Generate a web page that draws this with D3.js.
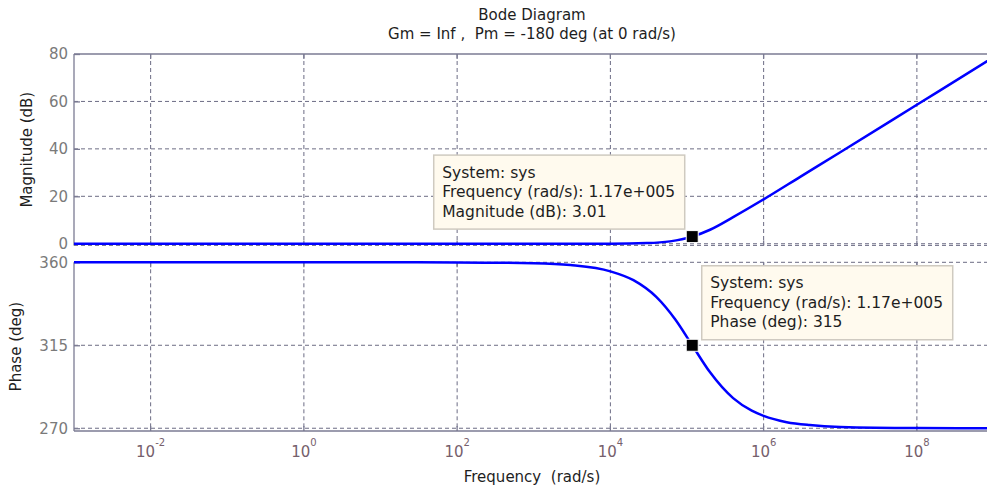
<!DOCTYPE html>
<html>
<head>
<meta charset="utf-8">
<script src="https://cdn.jsdelivr.net/npm/d3@7"></script>
<style>
  body { margin: 0; background: #ffffff; }
  svg { display: block; font-family: "DejaVu Sans", "Noto Sans", sans-serif; }
</style>
</head>
<body>
<svg id="chart" width="987" height="486"></svg>
<script>
// Frequency response of sys: magnitude (dB) and phase (deg) versus frequency (rad/s)
const magFreq  = [1e-3, 1e-1, 1e1, 1e3, 1e4, 3e4, 6e4, 1.17e5, 2e5, 4e5, 1e6, 3e6, 1e7, 1e8, 1e9];
const magDb    = [0, 0, 0, 0, 0.03, 0.28, 1.0, 3.01, 5.9, 11.2, 18.7, 28.2, 38.6, 58.6, 78.6];

const phaseFreq = [1e-3, 1e1, 1e2, 1e3, 3e3, 1e4, 2e4, 4e4, 7e4, 1.17e5, 2e5, 4e5, 7e5, 1e6, 2e6, 4e6, 1e7, 1e8, 1e9];
const phaseDeg  = [360, 360, 359.95, 359.5, 358.5, 355.1, 350.3, 341.1, 329.1, 315, 300.3, 286.3, 279.5, 276.7, 273.3, 271.7, 270.7, 270.1, 270];

// Axis ticks
const xTickExps   = [-2, 0, 2, 4, 6, 8];
const magTicks    = [0, 20, 40, 60, 80];
const phaseTicks  = [270, 315, 360];

// Data tip readouts
const tipFreq  = 1.17e5;
const tipMag   = 3.01;
const tipPhase = 315;

const titleLines = ["Bode Diagram", "Gm = Inf ,  Pm = -180 deg (at 0 rad/s)"];
const magLabel   = "Magnitude (dB)";
const phaseLabel = "Phase (deg)";
const freqLabel  = "Frequency  (rad/s)";

// ---- styling ----
const AXIS = "#7b7b93";
const GRID = "#6c6c84";
const TICKTXT = "#7a7a7a";
const CURVE = "#0000ff";
const TEXT = "#1e1e1e";

const svg = d3.select("#chart");

const x = d3.scaleLog().domain([1e-3, 1e9]).range([74, 993.5]);
const yMag = d3.scaleLinear().domain([-0.7, 80]).range([245.4, 54]);
const yPh  = d3.scaleLinear().domain([268.5, 360]).range([431, 262.3]);

const xLeft = x.range()[0];
const xRight = 987;
const xTickVals = xTickExps.map(e => Math.pow(10, e));

// ---- gridlines ----
function vGrid(y0, y1) {
  svg.append("g").selectAll("line").data(xTickVals).join("line")
    .attr("x1", d => x(d)).attr("x2", d => x(d))
    .attr("y1", y0).attr("y2", y1)
    .attr("stroke", GRID).attr("stroke-width", 1)
    .attr("stroke-dasharray", "4,3");
}
function hGrid(vals, scale) {
  svg.append("g").selectAll("line").data(vals).join("line")
    .attr("x1", xLeft).attr("x2", xRight)
    .attr("y1", d => scale(d)).attr("y2", d => scale(d))
    .attr("stroke", GRID).attr("stroke-width", 1)
    .attr("stroke-dasharray", "4,3");
}

vGrid(yMag.range()[1], yMag.range()[0]);
vGrid(yPh.range()[1], yPh.range()[0]);
hGrid(magTicks.filter(v => v < 80), yMag);
hGrid(phaseTicks, yPh);

// dashed lower edge of the magnitude axes
svg.append("line")
  .attr("x1", xLeft).attr("x2", xRight)
  .attr("y1", yMag.range()[0]).attr("y2", yMag.range()[0])
  .attr("stroke", GRID).attr("stroke-dasharray", "4,3");

// ---- solid frame lines ----
function solid(x1, y1, x2, y2) {
  svg.append("line").attr("x1", x1).attr("y1", y1).attr("x2", x2).attr("y2", y2)
    .attr("stroke", AXIS).attr("stroke-width", 1.3);
}
solid(xLeft, yMag.range()[1], xRight, yMag.range()[1]);   // magnitude top
solid(xLeft, yMag.range()[1], xLeft, yMag.range()[0]);    // magnitude left
solid(xLeft, yPh.range()[1], xLeft, yPh.range()[0]);      // phase left
solid(xLeft, yPh.range()[0], xRight, yPh.range()[0]);     // phase bottom

// ---- inward tick marks on x ----
function xTicks(yEdge, dir) {
  svg.append("g").selectAll("line").data(xTickVals).join("line")
    .attr("x1", d => x(d)).attr("x2", d => x(d))
    .attr("y1", yEdge).attr("y2", yEdge + dir * 5)
    .attr("stroke", AXIS).attr("stroke-width", 1.3);
}
xTicks(yMag.range()[1], 1);
xTicks(yMag.range()[0], -1);
xTicks(yPh.range()[1], 1);
xTicks(yPh.range()[0], -1);

// ---- y axes (ticks inside, labels outside) ----
function yAxis(scale, ticks) {
  const g = svg.append("g").attr("transform", `translate(${xLeft},0)`)
    .call(d3.axisLeft(scale).tickValues(ticks).tickSizeInner(-6).tickSizeOuter(0).tickPadding(6));
  g.select(".domain").remove();
  g.selectAll(".tick line").attr("stroke", AXIS).attr("stroke-width", 1.3);
  g.selectAll(".tick text")
    .attr("fill", TICKTXT).attr("font-size", 15)
    .attr("font-family", "DejaVu Sans, sans-serif");
}
yAxis(yMag, magTicks);
yAxis(yPh, phaseTicks);

// ---- x tick labels 10^n ----
const xl = svg.append("g").selectAll("text").data(xTickExps).join("text")
  .attr("x", d => x(Math.pow(10, d)))
  .attr("y", yPh.range()[0] + 26)
  .attr("text-anchor", "middle")
  .attr("fill", "#76606c")
  .attr("font-size", 15);
xl.append("tspan").text("10");
xl.append("tspan").attr("dy", -11).attr("font-size", 10).text(d => String(d));

// ---- curves ----
const magLine = d3.line()
  .x((d, i) => x(magFreq[i])).y(d => yMag(d))
  .curve(d3.curveMonotoneX);
svg.append("path").datum(magDb)
  .attr("d", magLine)
  .attr("fill", "none").attr("stroke", CURVE).attr("stroke-width", 2.5);

const phLine = d3.line()
  .x((d, i) => x(phaseFreq[i])).y(d => yPh(d))
  .curve(d3.curveMonotoneX);
svg.append("path").datum(phaseDeg)
  .attr("d", phLine)
  .attr("fill", "none").attr("stroke", CURVE).attr("stroke-width", 2.5);

// ---- titles and axis labels ----
svg.append("text").attr("x", 532).attr("y", 20).attr("text-anchor", "middle")
  .attr("font-size", 15).attr("fill", TEXT).text(titleLines[0]);
svg.append("text").attr("x", 532).attr("y", 39).attr("text-anchor", "middle")
  .attr("font-size", 15).attr("fill", TEXT).style("white-space", "pre").text(titleLines[1]);

svg.append("text")
  .attr("transform", `translate(31.5,${(yMag.range()[0] + yMag.range()[1]) / 2}) rotate(-90)`)
  .attr("text-anchor", "middle").attr("font-size", 15).attr("fill", TEXT).text(magLabel);
svg.append("text")
  .attr("transform", `translate(21,${(yPh.range()[0] + yPh.range()[1]) / 2}) rotate(-90)`)
  .attr("text-anchor", "middle").attr("font-size", 15).attr("fill", TEXT).text(phaseLabel);
svg.append("text").attr("x", 532).attr("y", 482).attr("text-anchor", "middle")
  .attr("font-size", 15).attr("fill", TEXT).style("white-space", "pre").text(freqLabel);

// ---- data tips ----
function expFmt(v) {
  const [m, e] = v.toExponential(2).split("e");
  const sign = e[0] === "-" ? "-" : "+";
  const digits = e.replace(/[+-]/, "").padStart(3, "0");
  return `${m}e${sign}${digits}`;
}

function dataTip(px, py, lines, side) {
  const g = svg.append("g");
  const rect = g.append("rect");
  const texts = g.selectAll("text").data(lines).join("text")
    .attr("font-size", 15.5).attr("fill", TEXT).text(d => d);
  let w = 0;
  texts.each(function () { w = Math.max(w, this.getComputedTextLength()); });
  w = Math.round(w + 18);
  const h = 74;
  const bx = side === "left" ? px - 8 - w : px + 9;
  const by = side === "left" ? py - 8 - h : py - 80;
  rect.attr("x", bx + 0.5).attr("y", by + 0.5).attr("width", w).attr("height", h)
    .attr("fill", "#fffaee").attr("stroke", "#cfcac0").attr("stroke-width", 1.5);
  texts.attr("x", bx + 9).attr("y", (d, i) => by + 23 + i * 19.5);
  // marker
  svg.append("rect")
    .attr("x", px - 6).attr("y", py - 6).attr("width", 12).attr("height", 12)
    .attr("fill", "#000").attr("stroke", "#ffffff").attr("stroke-width", 1);
}

dataTip(x(tipFreq), yMag(tipMag), [
  "System: sys",
  `Frequency (rad/s): ${expFmt(tipFreq)}`,
  `Magnitude (dB): ${tipMag}`
], "left");

dataTip(x(tipFreq), yPh(tipPhase), [
  "System: sys",
  `Frequency (rad/s): ${expFmt(tipFreq)}`,
  `Phase (deg): ${tipPhase}`
], "right");
</script>
</body>
</html>
